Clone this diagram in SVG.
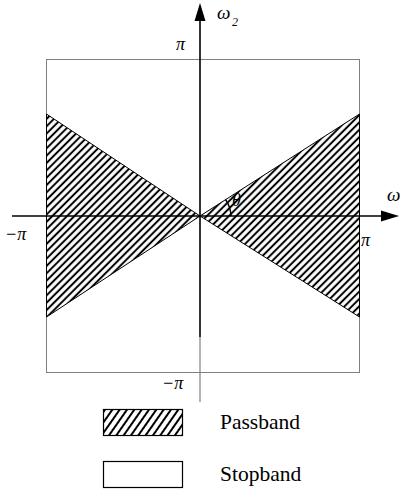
<svg xmlns="http://www.w3.org/2000/svg" width="403" height="490" viewBox="0 0 403 490">
<style>
.lbl{font-family:"Liberation Serif","Times New Roman",serif;font-style:italic;fill:#000}
.leg{font-family:"Liberation Serif","Times New Roman",serif;font-size:21.5px;fill:#000}
.box{fill:none;stroke:#808080;stroke-width:1}
.ax{stroke:#000;stroke-width:1.6;fill:none}
.band{fill:url(#hatch);stroke:#000;stroke-width:1}
</style>
<defs>
<pattern id="hatch" patternUnits="userSpaceOnUse" width="10" height="5.2" patternTransform="rotate(-45)">
<rect width="10" height="5.2" fill="#fff"/>
<line x1="0" y1="2.6" x2="10" y2="2.6" stroke="#000" stroke-width="2"/>
</pattern>
<pattern id="hatch2" patternUnits="userSpaceOnUse" width="10" height="6" patternTransform="rotate(-55)">
<rect width="10" height="6" fill="#fff"/>
<line x1="0" y1="3" x2="10" y2="3" stroke="#000" stroke-width="2"/>
</pattern>
</defs>
<g id="frame">
<rect class="box" x="46.5" y="59.5" width="313" height="313"/>
</g>
<g id="passband-left">
<polygon class="band" points="46.5,114 200,216 46.5,317"/>
</g>
<g id="passband-right">
<polygon class="band" points="359.5,114 200,216 359.5,317"/>
</g>
<g id="connectors">
<line class="ax" x1="200" y1="18" x2="200" y2="337"/>
<line x1="200" y1="337" x2="200" y2="402" stroke="#808080" stroke-width="1.2"/>
<polygon points="200,3 194.5,21 205.5,21" fill="#000"/>
<line class="ax" x1="12" y1="216" x2="384" y2="216"/>
<polygon points="399,216 381,210.5 381,221.5" fill="#000"/>
<path d="M 225.5 199.5 A 31 31 0 0 1 231 216" fill="none" stroke="#000" stroke-width="1.4"/>
</g>
<g id="labels">
<text class="lbl" x="217" y="19" font-size="19">ω</text>
<text class="lbl" x="232" y="26" font-size="12">2</text>
<text class="lbl" x="176" y="50" font-size="18">π</text>
<text class="lbl" x="5" y="240" font-size="18">−π</text>
<text class="lbl" x="361" y="246" font-size="18">π</text>
<text class="lbl" x="162" y="389" font-size="18">−π</text>
<text class="lbl" x="387" y="201" font-size="19">ω</text>
<text class="lbl" x="232" y="206" font-size="18">θ</text>
</g>
<g id="legend-passband">
<rect x="103.5" y="409.5" width="79" height="26" fill="url(#hatch2)" stroke="#000" stroke-width="1.2"/>
<text class="leg" x="220" y="429">Passband</text>
</g>
<g id="legend-stopband">
<rect x="103.5" y="461.5" width="79" height="26" fill="#fff" stroke="#000" stroke-width="1.2"/>
<text class="leg" x="220" y="481">Stopband</text>
</g>
</svg>
